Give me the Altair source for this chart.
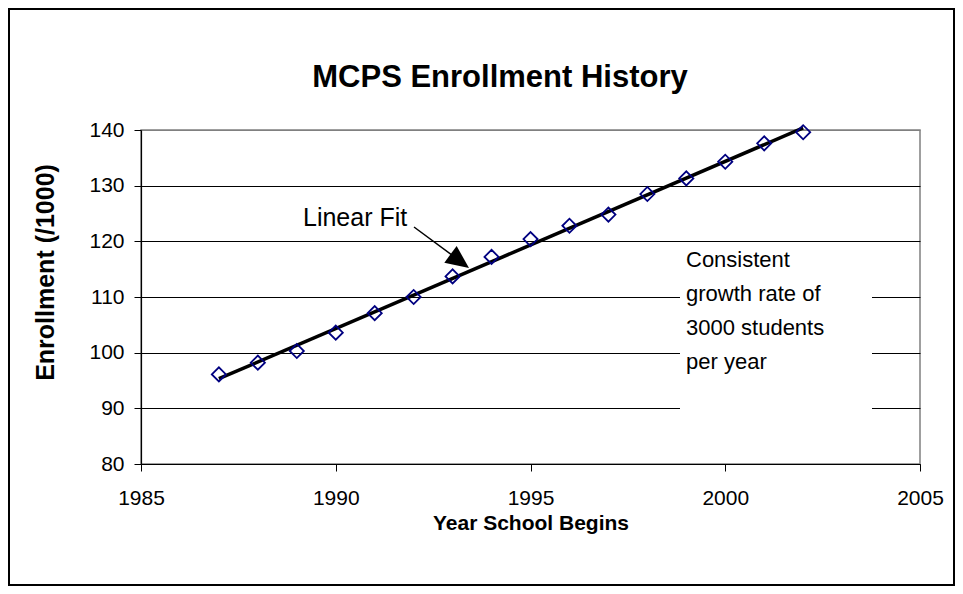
import altair as alt
import pandas as pd

# ---- data ----
years = list(range(1987, 2003))
enrollment = [96.1, 98.2, 100.3, 103.6, 107.1, 110.0, 113.7, 117.2,
              120.4, 122.8, 124.8, 128.5, 131.3, 134.3, 137.6, 139.6]
x_ticks = [1985, 1990, 1995, 2000, 2005]
y_ticks = [80, 90, 100, 110, 120, 130, 140]
chart_title = "MCPS Enrollment History"
x_title = "Year School Begins"
y_title = "Enrollment (/1000)"
fit_label = "Linear Fit"
note_lines = ["Consistent", "growth rate of", "3000 students", "per year"]

df = pd.DataFrame({"year": years, "enrollment": enrollment})
one = alt.Data(values=[{}])

FONT = "Liberation Sans"
W, H = 779, 334

xscale = alt.Scale(domain=[1985, 2005], nice=False, zero=False)
yscale = alt.Scale(domain=[80, 140], nice=False, zero=False)

x_enc = alt.X(
    "year:Q", scale=xscale,
    axis=alt.Axis(values=x_ticks, format="d", grid=False, title=x_title,
                  titleX=W / 2, titleY=59, titleBaseline="middle",
                  titleFontSize=21, labelPadding=16, labelFlush=False),
)
y_enc = alt.Y(
    "enrollment:Q", scale=yscale,
    axis=alt.Axis(values=y_ticks, grid=True, title=y_title,
                  titleX=-96, titleY=142, titleBaseline="middle",
                  titleFontSize=25, labelPadding=10, labelFlush=False,
                  gridColor={"condition": {"test": "datum.value == 140", "value": "#808080"},
                             "value": "black"}),
)

fit = alt.Chart(df).transform_regression(
    "year", "enrollment", extent=[1987, 2002]
).mark_line(color="black", strokeWidth=3.5).encode(x=x_enc, y=y_enc)

pts = alt.Chart(df).mark_point(
    shape="diamond", filled=False, color="#000080", size=200,
    strokeWidth=1.8, opacity=1
).encode(x=x_enc, y=y_enc)

# white note box covering gridlines
box = alt.Chart(one).mark_rect(fill="white", stroke=None).encode(
    x=alt.value(539), x2=alt.value(731), y=alt.value(113), y2=alt.value(290)
)
note = alt.Chart(one).mark_text(
    align="left", baseline="alphabetic", font=FONT, fontSize=22,
    lineHeight=34, color="black"
).encode(x=alt.value(545), y=alt.value(137), text=alt.value(note_lines))

fit_text = alt.Chart(one).mark_text(
    align="left", baseline="alphabetic", font=FONT, fontSize=25, color="black"
).encode(x=alt.value(162), y=alt.value(96), text=alt.value(fit_label))

shaft = alt.Chart(one).mark_rule(color="black", strokeWidth=1.5).encode(
    x=alt.value(273), x2=alt.value(319), y=alt.value(97), y2=alt.value(131)
)
head = alt.Chart(one).mark_point(
    shape="M0,0 L-2,-0.9 L-2,0.9 Z", filled=True, color="black",
    size=530, angle=36.5, opacity=1, strokeWidth=0
).encode(x=alt.value(328), y=alt.value(138))

title_mark = alt.Chart(one).mark_text(
    align="center", baseline="alphabetic", font=FONT, fontSize=31,
    fontWeight="bold", color="black"
).encode(x=alt.value(359), y=alt.value(-43), text=alt.value(chart_title))

border = alt.Chart(one).mark_rect(
    fill="white", fillOpacity=0, stroke="black", strokeWidth=2
).encode(x=alt.value(-132), x2=alt.value(813), y=alt.value(-121), y2=alt.value(455))

chart = alt.layer(
    fit, pts, box, note, fit_text, shaft, head, title_mark, border
).properties(
    width=W, height=H,
    autosize=alt.AutoSizeParams(type="none"),
    padding={"left": 133, "top": 122, "right": 35, "bottom": 122},
    background="white",
).configure_view(
    stroke="#808080", strokeWidth=1.5
).configure_axis(
    domainColor="black", domainWidth=1.2, tickColor="black", tickSize=7,
    tickWidth=1, gridWidth=1, labelFont=FONT, labelFontSize=21,
    labelColor="black", titleFont=FONT, titleFontSize=22,
    titleFontWeight="bold", titleColor="black"
)

chart.save("out.html", embed_options={"renderer": "svg", "actions": False})
